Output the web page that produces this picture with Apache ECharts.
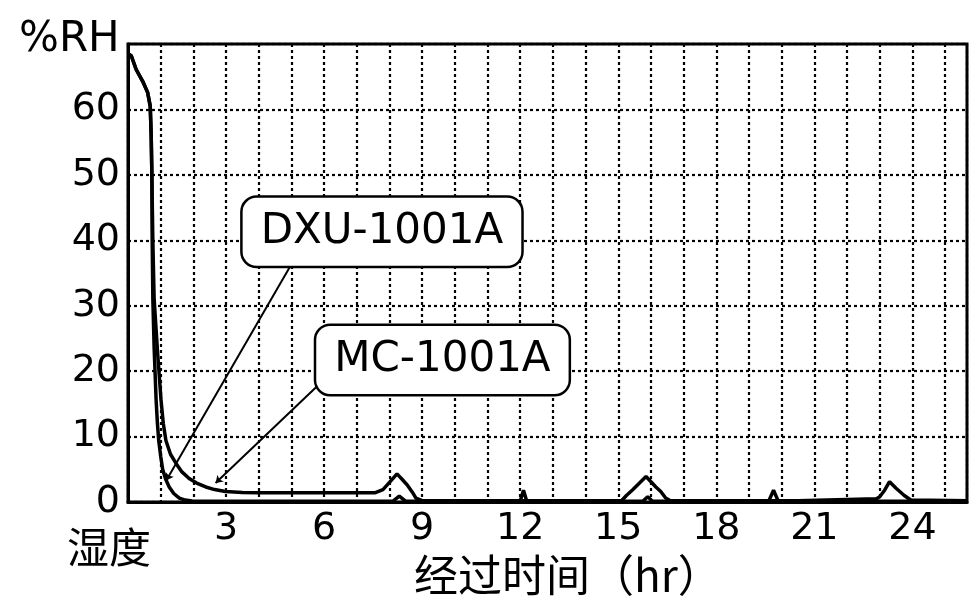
<!DOCTYPE html>
<html>
<head>
<meta charset="utf-8">
<script src="https://cdn.jsdelivr.net/npm/echarts@6/dist/echarts.min.js"></script>
<style>
html,body{margin:0;padding:0;background:#fff;}
#c{width:970px;height:605px;}
</style>
</head>
<body>
<div id="c"></div>
<script>
// ---- data ----
var xTickLabels = [3, 6, 9, 12, 15, 18, 21, 24];
var yTickLabels = [0, 10, 20, 30, 40, 50, 60];

var dxuTime = [0, 0.1, 0.25, 0.45, 0.6, 0.68, 0.71, 0.73, 0.74, 0.76, 0.8, 0.86, 0.9, 0.94, 1.0, 1.06, 1.15, 1.26, 1.4, 1.57, 1.75, 1.96, 8.1, 8.3, 8.5, 12.0, 12.1, 12.2, 15.75, 15.9, 16.05, 19.6, 19.75, 19.9, 25.7];
var dxuRH   = [68.5, 68.2, 66.1, 64.3, 62.6, 60.5, 56, 50, 40, 31, 23.5, 15.6, 12, 9.4, 7, 5, 3.5, 2.3, 1.3, 0.6, 0.3, 0.15, 0.1, 0.9, 0.1, 0.1, 1.8, 0.1, 0.1, 0.8, 0.1, 0.1, 1.8, 0.1, 0.1];

var mcTime = [0, 0.1, 0.25, 0.45, 0.6, 0.68, 0.71, 0.73, 0.76, 0.8, 0.9, 1.01, 1.08, 1.16, 1.3, 1.47, 1.65, 1.87, 2.1, 2.38, 2.65, 2.98, 3.5, 4, 6, 7.55, 7.8, 8.0, 8.23, 8.4, 8.56, 8.7, 8.81, 9.0, 15.1, 15.25, 15.45, 15.65, 15.85, 16.0, 16.15, 16.3, 16.45, 16.6, 20.5, 22.9, 23.0, 23.15, 23.3, 23.5, 23.75, 23.95, 25.7];
var mcRH   = [68.5, 68.2, 66.1, 64.3, 62.6, 60.5, 56, 50, 40, 31, 23.2, 15.6, 12, 9.4, 7.3, 5.9, 4.6, 3.6, 2.9, 2.3, 1.9, 1.6, 1.45, 1.4, 1.4, 1.4, 1.9, 3.0, 4.3, 3.4, 2.5, 1.5, 0.6, 0.2, 0.2, 1.0, 1.9, 2.9, 3.9, 3.1, 2.3, 1.6, 0.6, 0.2, 0.2, 0.5, 0.8, 1.8, 3.1, 2.1, 1.0, 0.3, 0.2];

var labelNames = ['DXU-1001A', 'MC-1001A'];
var labelPos = [[7.77, 41.3], [9.62, 21.7]];          // data coords of label boxes
var leaderFrom = [[4.96, 36.0], [5.77, 17.6]];        // data coords of leader lines
var leaderTo = [[1.17, 3.3], [2.68, 2.9]];

function pairs(t, v) { return t.map(function (x, i) { return [x, v[i]]; }); }

var chart = echarts.init(document.getElementById('c'), null, {renderer: 'canvas'});
var latin = 'DejaVu Sans, Verdana, sans-serif';
var cjk = 'Noto Sans CJK SC, sans-serif';

chart.setOption({
  animation: false,
  backgroundColor: '#fff',
  grid: {
    left: 128, top: 44, right: -3, bottom: 103,
    show: true, borderColor: '#000', borderWidth: 3, backgroundColor: 'transparent'
  },
  xAxis: {
    type: 'value', min: 0, max: 25.67, interval: 1,
    axisLine: {show: true, lineStyle: {color: '#000', width: 3}},
    axisTick: {show: false},
    splitLine: {show: true, lineStyle: {color: '#000', width: 2.2, type: [3, 3]}},
    axisLabel: {
      color: '#000', fontSize: 38, fontFamily: latin, margin: 8,
      formatter: function (v) { return xTickLabels.indexOf(v) >= 0 ? String(v) : ''; }
    }
  },
  yAxis: {
    type: 'value', min: 0, max: 70, interval: 10,
    axisLine: {show: true, lineStyle: {color: '#000', width: 3}},
    axisTick: {show: false},
    splitLine: {show: true, lineStyle: {color: '#000', width: 2.2, type: [3, 3]}},
    axisLabel: {
      color: '#000', fontSize: 38, fontFamily: latin, margin: 8,
      formatter: function (v) { return yTickLabels.indexOf(v) >= 0 ? String(v) : ''; }
    }
  },
  graphic: [
    {type: 'text', left: 19, top: 19, style: {text: '%RH', fontSize: 42, fontFamily: latin, fill: '#000'}},
    {type: 'text', left: 67, top: 526, style: {text: '湿度', fontSize: 42, fontFamily: cjk, fill: '#000'}},
    {type: 'text', left: 414, top: 553, style: {text: '经过时间（hr）', fontSize: 44, fontFamily: cjk, fill: '#000'}}
  ],
  series: [
    {
      name: labelNames[0], type: 'line', data: pairs(dxuTime, dxuRH),
      showSymbol: false, z: 3,
      lineStyle: {color: '#000', width: 3.5}
    },
    {
      name: labelNames[1], type: 'line', data: pairs(mcTime, mcRH),
      showSymbol: false, z: 3,
      lineStyle: {color: '#000', width: 3.5},
      markLine: {
        silent: true, symbol: ['none', 'arrow'], symbolSize: 7,
        lineStyle: {color: '#000', width: 2, type: 'solid'},
        label: {show: false},
        data: leaderFrom.map(function (f, i) { return [{coord: f}, {coord: leaderTo[i]}]; })
      }
    },
    {
      type: 'line', data: [], z: 5,
      markPoint: {
        silent: true, symbol: 'circle', symbolSize: 1,
        itemStyle: {color: 'transparent'},
        label: {
          show: true, position: 'inside', color: '#000', fontSize: 42, fontFamily: latin,
          lineHeight: 48,
          backgroundColor: '#fff', borderColor: '#000', borderWidth: 2.5, borderRadius: 14,
          padding: [10, 18, 10, 18],
          formatter: function (p) { return p.name; }
        },
        data: labelNames.map(function (n, i) { return {name: n, coord: labelPos[i]}; })
      }
    }
  ]
});
</script>
</body>
</html>
